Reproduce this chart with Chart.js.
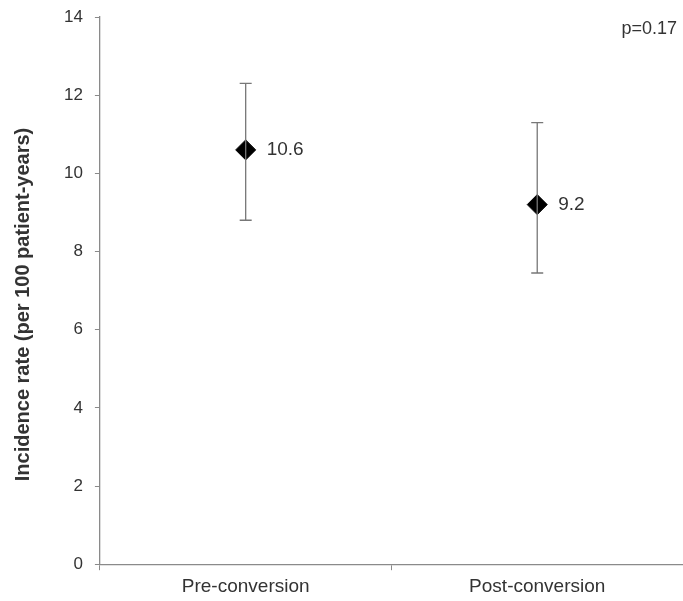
<!DOCTYPE html>
<html lang="en">
<head>
    <meta charset="UTF-8">
    <script src="https://cdn.jsdelivr.net/npm/chart.js"></script>
    <title>Incidence rate</title>
    <style>
        body { margin: 0; background: #fff; }
        .container { width: 683px; height: 601px; }
    </style>
</head>
<body>
    <div class="container">
        <canvas id="mychart"></canvas>
    </div>

    <script>
        // data
        const categories = ["Pre-conversion", "Post-conversion"];
        const rates = [10.6, 9.2];
        const lowerCI = [8.8, 7.45];
        const upperCI = [12.3, 11.3];
        const yTicks = [0, 2, 4, 6, 8, 10, 12, 14];
        const pText = "p=0.17";

        const axisGrey = '#8a8a8a';
        const textGrey = '#333333';
        const fontFamily = '"Liberation Sans", Arial, sans-serif';

        // whiskers + value labels + p value
        const errorBars = {
            id: 'errorBars',
            afterDatasetsDraw(chart) {
                const ctx = chart.ctx;
                const x = chart.scales.x;
                const y = chart.scales.y;
                ctx.save();
                ctx.strokeStyle = '#777777';
                ctx.lineWidth = 1.3;
                for (let i = 0; i < rates.length; i++) {
                    const px = x.getPixelForValue(i);
                    const top = y.getPixelForValue(upperCI[i]);
                    const bot = y.getPixelForValue(lowerCI[i]);
                    ctx.beginPath();
                    ctx.moveTo(px, top); ctx.lineTo(px, bot);
                    ctx.moveTo(px - 6, top); ctx.lineTo(px + 6, top);
                    ctx.moveTo(px - 6, bot); ctx.lineTo(px + 6, bot);
                    ctx.stroke();
                }
                ctx.restore();
            },
            afterDraw(chart) {
                const ctx = chart.ctx;
                const x = chart.scales.x;
                const y = chart.scales.y;
                ctx.save();
                ctx.fillStyle = textGrey;
                ctx.font = '19px ' + fontFamily;
                ctx.textAlign = 'left';
                ctx.textBaseline = 'middle';
                for (let i = 0; i < rates.length; i++) {
                    ctx.fillText(rates[i].toFixed(1), x.getPixelForValue(i) + 21, y.getPixelForValue(rates[i]));
                }
                ctx.font = '18px ' + fontFamily;
                ctx.textAlign = 'right';
                ctx.fillText(pText, 677, y.getPixelForValue(13.7));
                ctx.restore();
            }
        };

        let mychart = document.getElementById("mychart").getContext('2d');
        let charts = new Chart(mychart, {
            type: 'line',
            data: {
                labels: categories,
                datasets: [{
                    data: rates,
                    showLine: false,
                    pointStyle: 'rectRot',
                    pointRadius: 10,
                    pointHoverRadius: 10,
                    backgroundColor: '#000',
                    borderColor: '#000',
                    borderWidth: 1
                }]
            },
            plugins: [errorBars],
            options: {
                responsive: true,
                maintainAspectRatio: false,
                animation: false,
                layout: { autoPadding: false, padding: { top: 17, right: -10, bottom: -2, left: 11 } },
                plugins: {
                    legend: { display: false },
                    tooltip: { enabled: false }
                },
                scales: {
                    x: {
                        offset: true,
                        grid: {
                            offset: true,
                            drawOnChartArea: false,
                            drawTicks: true,
                            tickLength: 6,
                            color: axisGrey
                        },
                        border: { display: true, color: axisGrey, width: 1.3 },
                        ticks: {
                            color: textGrey,
                            font: { size: 19, family: fontFamily },
                            padding: 5
                        }
                    },
                    y: {
                        min: 0,
                        max: 14,
                        afterBuildTicks(scale) {
                            scale.ticks = yTicks.map(v => ({ value: v }));
                        },
                        afterFit(scale) {
                            scale.paddingTop = 0;
                        },
                        grid: {
                            drawOnChartArea: false,
                            drawTicks: true,
                            tickLength: 5,
                            color: axisGrey
                        },
                        border: { display: true, color: axisGrey, width: 1.3 },
                        ticks: {
                            color: textGrey,
                            font: { size: 17, family: fontFamily },
                            padding: 12
                        },
                        title: {
                            display: true,
                            // trailing spaces push the rotated title a little lower, as in the source
                            text: 'Incidence rate (per 100 patient-years)     ',
                            color: textGrey,
                            font: { size: 20, weight: 'bold', family: fontFamily },
                            padding: { top: 0, bottom: 17 }
                        }
                    }
                }
            }
        });
    </script>
</body>
</html>
